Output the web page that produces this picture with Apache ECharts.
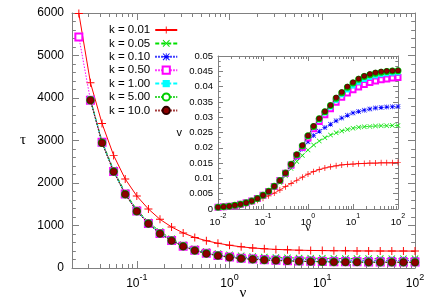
<!DOCTYPE html>
<html><head><meta charset="utf-8">
<script src="https://cdn.jsdelivr.net/npm/echarts@6/dist/echarts.min.js"></script>
<style>html,body{margin:0;padding:0;background:#fff}#c{width:432px;height:303px}</style>
</head><body><div id="c"></div>
<script>
// ---- data ----
const nu = [0.01, 0.01334, 0.01778, 0.02371, 0.03162, 0.04217, 0.05623, 0.07499, 0.1, 0.1334, 0.1778, 0.2371, 0.3162, 0.4217, 0.5623, 0.7499, 1, 1.334, 1.778, 2.371, 3.162, 4.217, 5.623, 7.499, 10, 13.34, 17.78, 23.71, 31.62, 42.17, 56.23, 74.99, 100];
const kLabels = ['k = 0.01', 'k = 0.05', 'k = 0.10', 'k = 0.50', 'k = 1.00', 'k = 5.00', 'k = 10.0'];

// main plot: tau vs nu
const tauK001 = [null, null, null, 5990, 4360, 3400, 2650, 2094, 1694, 1388, 1145, 965, 825, 718, 642, 582, 535, 498, 472, 452, 438, 427, 419, 413, 409, 406, 404, 402, 401, 400, 399, 399, 398];
const tauK005 = [null, null, null, null, 3974, 2985, 2308, 1775, 1373, 1085, 857, 690, 550, 455, 387, 343, 311, 287, 270, 258, 248, 241, 235, 231, 227, 225, 223, 222, 221, 221, 220, 220, 220];
const tauK01 = [null, null, null, null, 3950, 2956, 2281, 1749, 1348, 1060, 824, 659, 526, 429, 357, 306, 273, 250, 236, 226, 217, 208, 202, 196, 191, 188, 186, 183, 182, 181, 180, 180, 179];
const tauK05 = [null, null, null, 5435, 3950, 2956, 2273, 1739, 1339, 1049, 813, 645, 513, 417, 345, 297, 259, 229, 210, 195, 183, 172, 164, 158, 154, 150, 147, 145, 144, 142, 141, 140, 140];
const tauK1 = [null, null, null, null, 3953, 2943, 2268, 1735, 1335, 1044, 809, 644, 510, 412, 340, 292, 253, 224, 207, 192, 181, 170, 162, 155, 150, 146, 142, 140, 138, 137, 136, 135, 135];
const tauK5 = [null, null, null, null, 3950, 2945, 2270, 1737, 1337, 1046, 811, 645, 511, 413, 341, 292, 253, 224, 206, 191, 180, 168, 160, 153, 148, 144, 141, 139, 137, 136, 135, 135, 134];
const tauK10 = [null, null, null, null, 3950, 2941, 2266, 1733, 1333, 1042, 807, 642, 508, 410, 338, 289, 250, 221, 203, 188, 177, 165, 157, 150, 145, 141, 138, 136, 134, 133, 133, 133, 132];

// inset: v vs nu
const vK001 = [0.0005, 0.00065, 0.0008, 0.001, 0.00138, 0.00176, 0.00226, 0.00287, 0.00354, 0.00432, 0.0052, 0.0062, 0.0073, 0.0084, 0.0094, 0.0104, 0.0114, 0.0122, 0.0129, 0.0134, 0.0138, 0.0141, 0.0144, 0.0146, 0.0147, 0.0148, 0.0149, 0.015, 0.015, 0.0151, 0.0151, 0.0151, 0.0152];
const vK005 = [0.00055, 0.00072, 0.00093, 0.00118, 0.00151, 0.00201, 0.0026, 0.00338, 0.00437, 0.00553, 0.007, 0.0087, 0.0109, 0.0132, 0.0155, 0.0175, 0.0193, 0.0209, 0.0222, 0.0233, 0.0242, 0.0249, 0.0255, 0.026, 0.0264, 0.0267, 0.0269, 0.027, 0.0271, 0.0272, 0.0272, 0.0273, 0.0273];
const vK01 = [0.00055, 0.00072, 0.00093, 0.0012, 0.00152, 0.00203, 0.00263, 0.00343, 0.00445, 0.00566, 0.00728, 0.0091, 0.0114, 0.014, 0.0168, 0.0196, 0.022, 0.024, 0.0254, 0.0266, 0.0277, 0.0288, 0.0297, 0.0306, 0.0314, 0.0319, 0.0323, 0.0327, 0.033, 0.0332, 0.0333, 0.0334, 0.0335];
const vK05 = [0.00055, 0.00072, 0.00093, 0.0011, 0.00152, 0.00203, 0.00264, 0.00345, 0.00448, 0.00572, 0.00738, 0.0093, 0.0117, 0.0144, 0.0174, 0.0202, 0.0232, 0.0262, 0.0286, 0.0308, 0.0328, 0.0349, 0.0365, 0.0379, 0.039, 0.0399, 0.0407, 0.0413, 0.0418, 0.0422, 0.0425, 0.0428, 0.043];
const vK1 = [0.00055, 0.00072, 0.00093, 0.0012, 0.00152, 0.00204, 0.00265, 0.00346, 0.0045, 0.00575, 0.00742, 0.00932, 0.0118, 0.0146, 0.0176, 0.0205, 0.0237, 0.0268, 0.0291, 0.0314, 0.0333, 0.0355, 0.0373, 0.0389, 0.0402, 0.0414, 0.0423, 0.043, 0.0435, 0.0439, 0.0442, 0.0444, 0.0445];
const vK5 = [0.00055, 0.00072, 0.00093, 0.0012, 0.00152, 0.00204, 0.00265, 0.00346, 0.0045, 0.00576, 0.00743, 0.00935, 0.0118, 0.0146, 0.0177, 0.0207, 0.0239, 0.027, 0.0295, 0.0318, 0.0338, 0.0362, 0.038, 0.0398, 0.0412, 0.0424, 0.0433, 0.0439, 0.0444, 0.0447, 0.0449, 0.0451, 0.0452];
const vK10 = [0.00055, 0.00072, 0.00093, 0.0012, 0.00152, 0.00204, 0.00265, 0.00346, 0.0045, 0.00576, 0.00743, 0.00935, 0.0118, 0.0146, 0.0178, 0.0208, 0.024, 0.0271, 0.0296, 0.0319, 0.0339, 0.0364, 0.0382, 0.04, 0.0414, 0.0426, 0.0435, 0.0441, 0.0446, 0.0449, 0.0451, 0.0452, 0.0453];

const mainXTickLabels = [0.1, 1, 10, 100];
const insetXTickLabels = [0.01, 0.1, 1, 10, 100];

// ---- styling ----
const FONT = 'Liberation Sans, Arial, sans-serif';
const GREEK = 'Liberation Serif, DejaVu Serif, serif';
const AX = '#808080';
const PLUS = 'path://M4.4,0H5.6V4.4H10V5.6H5.6V10H4.4V5.6H0V4.4H4.4Z';
const XS = 'path://M0,0.9L0.9,0L5,4.1L9.1,0L10,0.9L5.9,5L10,9.1L9.1,10L5,5.9L0.9,10L0,9.1L4.1,5Z';
const AST = 'path://M4.4,0H5.6V4.4H10V5.6H5.6V10H4.4V5.6H0V4.4H4.4Z M0,0.9L0.9,0L5,4.1L9.1,0L10,0.9L5.9,5L10,9.1L9.1,10L5,5.9L0.9,10L0,9.1L4.1,5Z';
const styles = [
  {color: '#ff0000', symbol: PLUS, size: 8, insize: 6, type: 'solid', bw: 0},
  {color: '#00e000', symbol: XS, size: 7, insize: 5, type: [4, 2], bw: 0},
  {color: '#0000ff', symbol: AST, size: 7, insize: 5, type: [1.5, 1.5], bw: 0},
  {color: '#ff00ff', symbol: 'emptyRect', size: 7, insize: 5, type: [1.5, 1.5], bw: 1},
  {color: '#00ffff', symbol: 'rect', size: 6.5, insize: 5, type: [4, 2], bw: 0},
  {color: '#00cc00', symbol: 'emptyCircle', size: 6.5, insize: 5, type: [1.5, 1.5], bw: 1},
  {color: '#8b0000', symbol: 'circle', size: 7, insize: 5, type: [1.5, 1.5], bw: 0.5, border: '#300000'}
];
const tauSets = [tauK001, tauK005, tauK01, tauK05, tauK1, tauK5, tauK10];
const vSets = [vK001, vK005, vK01, vK05, vK1, vK5, vK10];

function logTicks(lo, hi, minor) {
  const out = [];
  for (let e = -3; e <= 3; e++) {
    const p = Math.pow(10, e);
    if (minor) { for (let m = 2; m <= 9; m++) { const v = +(m * p).toPrecision(6); if (v >= lo - 1e-12 && v <= hi + 1e-12) out.push(v); } }
    else { const v = +p.toPrecision(6); if (v >= lo - 1e-12 && v <= hi + 1e-12) out.push(v); }
  }
  return out;
}
function powLabel(v) {
  const l = Math.log10(v), e = Math.round(l);
  if (Math.abs(l - e) > 1e-6) return '';
  return '{b|10}{s|' + e + '}';
}
function xAx(grid, pos, lo, hi, major, len, labels, fs, sfs, margin) {
  return {
    type: 'log', logBase: 10, gridIndex: grid, position: pos, min: lo, max: hi,
    axisLine: {show: major, onZero: false, lineStyle: {color: AX, width: 1}},
    axisTick: {show: true, inside: true, length: len, lineStyle: {color: AX}, customValues: major ? logTicks(lo, hi, false) : logTicks(lo, hi, true)},
    axisLabel: labels ? {show: true, customValues: labels, formatter: powLabel, margin: margin,
      rich: {b: {fontSize: fs, fontFamily: FONT, color: '#000', lineHeight: fs + 5, verticalAlign: 'bottom'},
             s: {fontSize: sfs, fontFamily: FONT, color: '#000', verticalAlign: 'top', lineHeight: sfs + 1}}} : {show: false},
    splitLine: {show: false}, minorTick: {show: false}
  };
}
function yAx(grid, pos, max, interval, split, len, labels, fs, margin) {
  return {
    type: 'value', gridIndex: grid, position: pos, min: 0, max: max, interval: interval,
    axisLine: {show: true, onZero: false, lineStyle: {color: AX, width: 1}},
    axisTick: {show: true, inside: true, length: len, lineStyle: {color: AX}},
    minorTick: {show: true, splitNumber: split, length: len * 0.55, lineStyle: {color: AX}},
    axisLabel: labels ? {show: true, fontSize: fs, fontFamily: FONT, color: '#000', margin: margin,
      formatter: v => String(+v.toFixed(4))} : {show: false},
    splitLine: {show: false}, minorSplitLine: {show: false}
  };
}

const xAxes = [
  xAx(0, 'bottom', 0.02, 100, true, 7, mainXTickLabels, 12, 9, 5),
  xAx(0, 'bottom', 0.02, 100, false, 4, null),
  xAx(0, 'top', 0.02, 100, true, 7, null),
  xAx(0, 'top', 0.02, 100, false, 4, null),
  xAx(1, 'bottom', 0.01, 100, true, 5, insetXTickLabels, 9.5, 7, 4),
  xAx(1, 'bottom', 0.01, 100, false, 3, null),
  xAx(1, 'top', 0.01, 100, true, 5, null),
  xAx(1, 'top', 0.01, 100, false, 3, null)
];
const yAxes = [
  Object.assign(yAx(0, 'left', 6000, 1000, 5, 7, true, 12, 8), {name: 'τ', nameLocation: 'middle', nameRotate: 0, nameGap: 46, nameTextStyle: {fontFamily: GREEK, fontSize: 15, color: '#000', verticalAlign: 'middle', padding: [4, 0, 0, 0]}}),
  yAx(0, 'right', 6000, 1000, 5, 7, false),
  Object.assign(yAx(1, 'left', 0.05, 0.005, 3, 5, true, 9.5, 5), {name: 'v', nameLocation: 'middle', nameRotate: 0, nameGap: 36, nameTextStyle: {fontFamily: FONT, fontSize: 11, color: '#000', verticalAlign: 'middle'}}),
  yAx(1, 'right', 0.05, 0.005, 3, 5, false)
];

const series = [];
kLabels.forEach((name, k) => {
  const st = styles[k];
  const mk = (xi, yi, arr, size, lw) => ({
    name: name, type: 'line', xAxisIndex: xi, yAxisIndex: yi,
    data: nu.map((x, i) => [x, arr[i]]).filter(p => p[1] != null),
    symbol: st.symbol, symbolSize: size, showSymbol: true,
    lineStyle: {color: st.color, width: lw, type: st.type},
    itemStyle: {color: st.color, borderColor: st.border || st.color, borderWidth: st.bw},
    emphasis: {disabled: true}, clip: true, z: 2 + k
  });
  series.push(mk(0, 0, tauSets[k], st.size, 1));
  series.push(mk(4, 2, vSets[k], st.insize, 0.8));
});

const chart = echarts.init(document.getElementById('c'), null, {renderer: 'canvas'});
chart.setOption({
  animation: false,
  backgroundColor: '#fff',
  grid: [
    {left: 72, top: 13, width: 343, height: 255, containLabel: false, outerBoundsMode: 'none'},
    {left: 218, top: 56, width: 180, height: 153, containLabel: false, outerBoundsMode: 'none'}
  ],
  xAxis: xAxes,
  yAxis: yAxes,
  graphic: [
    {type: 'text', x: 243, y: 293, style: {text: 'ν', font: '15px ' + GREEK, fill: '#000', textAlign: 'center', textVerticalAlign: 'middle'}},
    {type: 'text', x: 308, y: 228, style: {text: 'ν', font: '12px ' + GREEK, fill: '#000', textAlign: 'center', textVerticalAlign: 'middle'}}
  ],
  legend: {
    data: kLabels, orient: 'vertical', left: 104, top: 19, align: 'right',
    itemWidth: 22, itemHeight: 9, itemGap: 1.4,
    textStyle: {fontFamily: FONT, fontSize: 11.5, color: '#000', lineHeight: 9},
    selectedMode: false
  },
  series: series
});
</script></body></html>
